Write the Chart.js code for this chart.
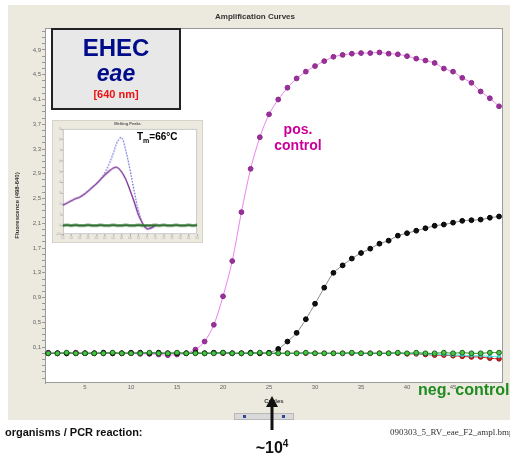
<!DOCTYPE html>
<html>
<head>
<meta charset="utf-8">
<script src="https://cdn.jsdelivr.net/npm/chart.js@4.4.1/dist/chart.umd.min.js"></script>
<style>
body { margin: 0; width: 510px; height: 461px; overflow: hidden; position: relative; background: #fff; font-family: "Liberation Sans", Arial, sans-serif; }
.abs { position: absolute; white-space: nowrap; }
#panel { left: 8px; top: 5px; width: 502px; height: 415px; background: #ece9df; }
#main { left: 0; top: 0; }
#title { left: 0; width: 510px; top: 12px; text-align: center; font-weight: bold; font-size: 8px; color: #333; }
#ehec { left: 51px; top: 28px; width: 126px; height: 78px; background: #e8e8e8; border: 2px solid #222; color: #000c8a; }
#ehec div { position: absolute; left: 0; width: 126px; text-align: center; font-weight: bold; }
#inset { left: 52px; top: 120px; border: 1px solid #d6d3cc; }
#insetTitle { left: 52px; width: 151px; top: 121px; text-align: center; font-size: 4px; font-weight: bold; color: #555; }
#tm { left: 137px; top: 131px; font-size: 10px; font-weight: bold; color: #000; }
#pos { left: 262px; top: 121px; width: 72px; text-align: center; font-size: 14px; line-height: 16px; font-weight: bold; color: #cc0099; }
#neg { left: 418px; top: 381px; font-size: 16px; font-weight: bold; color: #1f8a1f; }
#scroll { left: 234px; top: 413px; width: 58px; height: 5px; background: #d9d9d9; border: 1px solid #b8b8b8; }
#org { left: 5px; top: 426px; font-size: 11px; font-weight: bold; color: #111; }
#file { left: 390px; top: 427px; font-size: 9px; font-family: "Liberation Serif", serif; color: #333; }
#copies { left: 232px; top: 438px; width: 80px; text-align: center; font-size: 16px; font-weight: bold; color: #111; }
#copies sup { font-size: 10px; }
</style>
</head>
<body>
<div id="panel" class="abs"></div>
<canvas id="main" class="abs" width="510" height="461"></canvas>
<div id="title" class="abs">Amplification Curves</div>
<div id="ehec" class="abs">
  <div style="top:4px;font-size:24px;">EHEC</div>
  <div style="top:30px;font-size:23px;font-style:italic;">eae</div>
  <div style="top:58px;font-size:11px;color:#ee1111;">[640 nm]</div>
</div>
<canvas id="inset" class="abs" width="151" height="123"></canvas>
<div id="insetTitle" class="abs">Melting Peaks</div>
<div id="tm" class="abs">T<sub style="font-size:7px;">m</sub>=66°C</div>
<div id="pos" class="abs">pos.<br>control</div>
<div id="neg" class="abs">neg. control</div>
<div id="scroll" class="abs"><span class="abs" style="left:8px;top:1px;width:3px;height:3px;background:#33449a;"></span><span class="abs" style="left:47px;top:1px;width:3px;height:3px;background:#33449a;"></span></div>
<svg class="abs" style="left:262px;top:395px;" width="20" height="36">
  <polygon points="10,1 4,12 16,12" fill="#111"/>
  <rect x="8.5" y="10" width="3" height="25" fill="#111"/>
</svg>
<div id="org" class="abs">organisms / PCR reaction:</div>
<div id="file" class="abs">090303_5_RV_eae_F2_ampl.bmp</div>
<div id="copies" class="abs">~10<sup>4</sup></div>

<script>
"use strict"

// amplification curves, cycles 1..50
let cycles = [];
for (let c = 1; c <= 50; c++) cycles.push(c);

let posControl = [0.01, 0.00, 0.00, 0.01, 0.00, 0.00, 0.00, 0.00, 0.00, 0.00,
    -0.01, -0.01, -0.02, -0.03, -0.02, 0.00, 0.06, 0.19, 0.46, 0.92,
    1.49, 2.28, 2.98, 3.49, 3.86, 4.10, 4.29, 4.44, 4.55, 4.64,
    4.72, 4.79, 4.82, 4.84, 4.85, 4.85, 4.86, 4.84, 4.83, 4.80,
    4.76, 4.73, 4.69, 4.60, 4.55, 4.45, 4.37, 4.23, 4.12, 3.99];

let sample = [0.00, 0.00, 0.00, 0.00, 0.00, 0.00, 0.01, 0.00, 0.00, 0.01,
    0.01, 0.00, 0.01, 0.00, 0.00, 0.00, 0.01, 0.00, 0.01, 0.01,
    0.00, 0.00, 0.01, 0.00, 0.01, 0.07, 0.19, 0.33, 0.55, 0.80,
    1.06, 1.30, 1.42, 1.53, 1.62, 1.69, 1.77, 1.82, 1.90, 1.94,
    1.98, 2.02, 2.06, 2.08, 2.11, 2.14, 2.15, 2.16, 2.19, 2.21];

let negControl = [0.00, 0.00, 0.01, 0.00, 0.00, 0.00, 0.00, 0.01, 0.00, 0.00,
    0.00, 0.01, 0.00, 0.00, 0.01, 0.00, 0.00, 0.00, 0.00, 0.01,
    0.00, 0.00, 0.00, 0.01, 0.00, 0.00, 0.00, 0.00, 0.01, 0.00,
    0.00, 0.00, 0.00, 0.01, 0.00, 0.00, 0.00, 0.00, 0.01, 0.00,
    0.01, 0.00, 0.00, 0.01, 0.00, 0.01, 0.00, 0.00, 0.01, 0.01];

let redTrace = [0.00, 0.00, 0.00, 0.00, 0.00, 0.00, 0.00, 0.00, 0.00, 0.00,
    0.00, 0.00, 0.00, 0.00, 0.00, 0.00, 0.00, 0.00, 0.00, 0.00,
    0.00, 0.00, 0.00, 0.00, 0.00, 0.00, 0.00, 0.00, 0.00, 0.00,
    0.00, 0.00, 0.00, 0.00, 0.00, 0.00, 0.00, 0.00, 0.00, -0.01,
    -0.01, -0.02, -0.03, -0.03, -0.04, -0.05, -0.06, -0.06, -0.08, -0.09];

let cyanTrace = [0.00, 0.00, 0.00, 0.00, 0.00, 0.00, 0.00, 0.00, 0.00, 0.00,
    0.00, 0.00, 0.00, 0.00, 0.00, 0.00, 0.00, 0.00, 0.00, 0.00,
    0.00, 0.00, 0.00, 0.00, 0.00, 0.00, 0.00, 0.00, 0.00, 0.00,
    0.00, 0.00, 0.00, 0.00, 0.00, 0.00, 0.00, 0.00, 0.00, 0.00,
    -0.01, -0.01, -0.02, -0.02, -0.03, -0.03, -0.04, -0.04, -0.05, -0.05];

let xLabelTicks = [5, 10, 15, 20, 25, 30, 35, 40, 45];
let yLabelTicks = [0.1, 0.5, 0.9, 1.3, 1.7, 2.1, 2.5, 2.9, 3.3, 3.7, 4.1, 4.5, 4.9];

// melting peaks inset
let temps = [52, 53, 54, 55, 56, 57, 58, 59, 60, 61, 62, 63, 64, 65, 66, 67, 68,
    69, 70, 71, 72, 73, 74, 75, 76, 77, 78, 79, 80, 81, 82, 83, 84];
let meltBlue = [1.9, 2.1, 2.3, 2.5, 2.65, 2.9, 3.2, 3.55, 3.9, 4.3, 4.9, 5.7, 6.7, 7.8, 8.2, 7.0, 5.2,
    3.2, 1.4, 0.2, -0.3, -0.2, 0.0, 0.02, 0.02, 0.0, 0.02, 0.02, 0.0, 0.02, 0.0, 0.02, 0.02];
let meltPurple = [1.9, 2.1, 2.3, 2.5, 2.65, 2.9, 3.2, 3.55, 3.9, 4.3, 4.7, 5.05, 5.35, 5.4, 5.0, 4.3, 3.3,
    2.2, 1.0, 0.2, -0.3, -0.25, -0.05, 0.0, 0.02, 0.0, 0.0, 0.02, 0.0, 0.0, 0.02, 0.0, 0.0];
let meltNeg = [0.0, 0.05, 0.0, 0.05, 0.0, 0.0, 0.05, 0.0, 0.0, 0.05, 0.0, 0.0, 0.05, 0.0, 0.0, 0.05, 0.0,
    0.0, 0.05, 0.0, 0.0, 0.0, 0.05, 0.0, 0.05, 0.0, 0.0, 0.05, 0.0, 0.0, 0.05, 0.0, 0.05];

function xy(xs, ys) {
    return ys.map((v, i) => ({ x: xs[i], y: v }));
}

function comma(v) {
    return v.toFixed(1).replace('.', ',');
}

// white plot area with thin frame
const plotFrame = {
    id: 'plotFrame',
    beforeDraw(chart, args, opts) {
        const { ctx, chartArea: a } = chart;
        ctx.save();
        if (opts.outer) {
            ctx.fillStyle = opts.outer;
            ctx.fillRect(0, 0, chart.width, chart.height);
        }
        ctx.fillStyle = '#fff';
        ctx.fillRect(a.left, a.top, a.width, a.height);
        ctx.restore();
    },
    beforeDatasetsDraw(chart, args, opts) {
        const { ctx, chartArea: a } = chart;
        ctx.save();
        ctx.strokeStyle = opts.frame || '#999';
        ctx.lineWidth = 1;
        ctx.strokeRect(a.left + 0.5, a.top + 0.5, a.width - 1, a.height - 1);
        ctx.restore();
    }
};

function series(data, line, fill, border, radius) {
    return {
        data: xy(cycles, data),
        borderColor: line,
        borderWidth: 1,
        pointBackgroundColor: fill,
        pointBorderColor: border,
        pointBorderWidth: 1,
        pointRadius: radius,
        tension: 0.3,
        clip: false
    };
}

const tickFont = { family: 'Liberation Sans', size: 6 };

// first dataset is drawn on top, so the green negative control comes first
new Chart(document.getElementById('main'), {
    type: 'line',
    data: {
        datasets: [
            series(negControl, '#2a8a2a', '#44c844', '#1e5e1e', 2.4),
            series(sample, '#8a8a8a', '#111', '#000', 2.4),
            series(posControl, '#ee82ee', '#9b2f9b', '#8a2a8a', 2.4),
            series(cyanTrace, '#40e0e0', '#50e8e8', '#30c0c0', 1.5),
            series(redTrace, '#d02020', '#c81818', '#a01010', 2.3)
        ]
    },
    options: {
        responsive: false,
        animation: false,
        events: [],
        layout: { padding: { top: 28, right: 7, bottom: 54, left: 0 } },
        plugins: { legend: { display: false }, tooltip: { enabled: false }, plotFrame: { frame: '#9a9a9a' } },
        scales: {
            x: {
                type: 'linear', min: 0.65, max: 50.43,
                afterBuildTicks: axis => { axis.ticks = cycles.map(v => ({ value: v })); },
                afterFit: scale => { scale.height = 24; },
                ticks: {
                    autoSkip: false, maxRotation: 0, padding: 1, color: '#666', font: tickFont,
                    callback: v => xLabelTicks.includes(v) ? String(v) : ''
                },
                grid: { drawOnChartArea: false, tickLength: 0, color: '#999' },
                border: { display: false },
                title: { display: true, text: 'Cycles', color: '#333', font: { family: 'Liberation Sans', size: 6, weight: 'bold' }, padding: { top: 0, bottom: 2 } }
            },
            y: {
                type: 'linear', min: -0.48, max: 5.255,
                afterBuildTicks: axis => {
                    let t = [];
                    for (let i = -4; i <= 52; i++) t.push({ value: i / 10 });
                    axis.ticks = t;
                },
                afterFit: scale => { scale.width = 45; },
                ticks: {
                    autoSkip: false, padding: 1, color: '#666', font: tickFont,
                    callback: v => yLabelTicks.some(t => Math.abs(t - v) < 1e-6) ? comma(v) : ''
                },
                grid: { drawOnChartArea: false, tickLength: 3, color: '#999' },
                border: { display: true, color: '#999' },
                title: { display: true, text: 'Fluorescence (498-640)', color: '#333', font: { family: 'Liberation Sans', size: 6, weight: 'bold' }, padding: { top: 14, bottom: 0 } }
            }
        }
    },
    plugins: [plotFrame]
});

new Chart(document.getElementById('inset'), {
    type: 'line',
    data: {
        datasets: [
            { data: xy(temps, meltNeg), borderColor: '#2f6f2f', borderWidth: 2.5, pointRadius: 0, tension: 0.3 },
            { data: xy(temps, meltPurple), borderColor: '#84389c', borderWidth: 1.4, pointRadius: 0, tension: 0.35 },
            { data: xy(temps, meltBlue), borderColor: '#6466d4', borderWidth: 1.3, borderDash: [1.5, 1.5], pointRadius: 0, tension: 0.35 }
        ]
    },
    options: {
        responsive: false,
        animation: false,
        events: [],
        layout: { padding: { top: 8, right: 5, bottom: 0, left: 0 } },
        plugins: { legend: { display: false }, tooltip: { enabled: false }, plotFrame: { outer: '#ece9df', frame: '#c8c8c8' } },
        scales: {
            x: {
                type: 'linear', min: 52, max: 84,
                afterBuildTicks: axis => { axis.ticks = temps.filter(t => t % 2 === 0).map(v => ({ value: v })); },
                afterFit: scale => { scale.height = 8; },
                ticks: { autoSkip: false, maxRotation: 0, padding: 0, color: '#aaa', font: { size: 3 } },
                grid: { drawOnChartArea: false, tickLength: 2, color: '#aaa' },
                border: { display: false }
            },
            y: {
                type: 'linear', min: -0.8, max: 9,
                afterFit: scale => { scale.width = 10; },
                ticks: { stepSize: 1, padding: 0, color: '#aaa', font: { size: 3 } },
                grid: { drawOnChartArea: false, tickLength: 2, color: '#aaa' },
                border: { display: false }
            }
        }
    },
    plugins: [plotFrame]
});
</script>
</body>
</html>
